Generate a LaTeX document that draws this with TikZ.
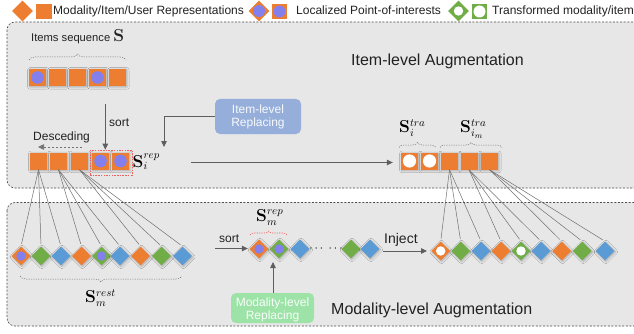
\documentclass[tikz,border=0pt]{standalone}
\usepackage[no-math]{fontspec}
\setmainfont{Liberation Sans}
\usetikzlibrary{shapes.geometric,arrows.meta,decorations.pathreplacing,shadows.blur,calc}
\definecolor{orng}{HTML}{ED7D31}
\definecolor{grn}{HTML}{70AD47}
\definecolor{blu}{HTML}{5B9BD5}
\definecolor{purp}{HTML}{8380EE}
\definecolor{boxgray}{HTML}{E7E7E7}
\definecolor{ilrfill}{HTML}{95AEDA}
\definecolor{mlrfill}{HTML}{9DE3A8}
\definecolor{linegray}{HTML}{707070}
\definecolor{arrgray}{HTML}{5E5E5E}
\definecolor{txt}{HTML}{222222}
\definecolor{redd}{HTML}{F06060}
\begin{document}
\begin{tikzpicture}[x=1pt,y=-1pt,
  shd/.style={blur shadow={shadow xshift=0.9pt,shadow yshift=-0.9pt,shadow blur steps=8,shadow blur radius=2.2pt,shadow opacity=28}},
  sq/.style={rectangle,fill=orng,minimum size=17pt,inner sep=0pt,shd},
  dia/.style={diamond,minimum width=19pt,minimum height=19pt,inner sep=0pt,shd},
  lsq/.style={rectangle,minimum size=15.5pt,inner sep=0pt},
  ldia/.style={diamond,minimum width=21pt,minimum height=21pt,inner sep=0pt},
  poi/.style={path picture={\fill[purp] (path picture bounding box.center) circle (#1);}},
  tfm/.style={path picture={\fill[white] (path picture bounding box.center) circle (#1);}},
  sec/.style={dashed,dash pattern=on 2pt off 1.6pt,draw=black!70,line width=0.6pt,rounded corners=8pt,fill=boxgray},
  lbl/.style={font=\fontsize{12}{13}\selectfont,text=txt,inner sep=0pt},
  big/.style={font=\fontsize{16}{18}\selectfont,text=txt,inner sep=0pt},
  mth/.style={font=\fontsize{16}{18}\selectfont,text=black,inner sep=0pt},
  fan/.style={draw=linegray,line width=0.5pt,shorten >=2.5pt},
  arr/.style={draw=arrgray,line width=0.8pt,-{Triangle[length=6pt,width=5.5pt]}},
  brc/.style={draw=black!55,dashed,dash pattern=on 1.2pt off 1.2pt,line width=0.5pt,decorate,decoration={brace,amplitude=#1}},
  rbrc/.style={draw=redd,dashed,dash pattern=on 1.2pt off 1.2pt,line width=0.6pt,decorate,decoration={brace,amplitude=#1}},
]
\useasboundingbox (0,0) rectangle (634,334);
\clip (0,0) rectangle (634,334);
\fill[white] (0,0) rectangle (634,334);

% section boxes
\draw[sec] (7,22) rectangle (660,188);
\draw[sec] (7,202.5) rectangle (660,326);

% legend
\node[ldia,fill=orng] (lg1) at (22.5,11) {};
\node[lsq,fill=orng] (lg2) at (44,11.5) {};
\node[lbl,anchor=base west] (lgt1) at (53,14.7) {Modality/Item/User Representations};
\node[ldia,fill=orng,poi=6pt] (lg3) at (259,11) {};
\node[lsq,fill=orng,poi=6pt] (lg4) at (279.5,11.5) {};
\node[lbl,anchor=base west] (lgt2) at (296,14.7) {Localized Point-of-interests};
\node[ldia,fill=grn,tfm=4.7pt] (lg5) at (458.5,11) {};
\node[lsq,fill=grn,tfm=6pt] (lg6) at (479.5,11.5) {};
\node[lbl,anchor=base west] (lgt3) at (492,14.7) {Transformed modality/item};

% item-level section
\node[big,anchor=base west] (ila) at (351,66) {Item-level Augmentation};
\node[lbl,anchor=base west,font=\fontsize{11.2}{13}\selectfont] (iseq) at (31,41.5) {Items sequence \fontsize{16}{18}\selectfont$\mathbf{S}$};
\draw[brc=6pt] (29,60) -- (126,60);
\node[sq,poi=6.3pt] (s1) at (37.5,77.5) {};
\node[sq] (s2) at (57.5,77.5) {};
\node[sq] (s3) at (77.5,77.5) {};
\node[sq,poi=6.3pt] (s4) at (97.5,77.5) {};
\node[sq] (s5) at (117.5,77.5) {};

\coordinate (sortstart) at (105.3,104);
\node[lbl,anchor=base west] (sortl) at (109,126.5) {sort};

\node[sq] (ra) at (38.5,161) {};
\node[sq] (rb) at (58.5,161) {};
\node[sq] (rc) at (79.5,161) {};
\node[sq,poi=6.3pt] (rd) at (100.5,161) {};
\node[sq,poi=6.3pt] (re) at (120.5,161) {};
\node[draw=redd,dashed,dash pattern=on 1.5pt off 1.2pt,line width=0.6pt,minimum width=42pt,minimum height=25pt,inner sep=0pt] (redbox) at (111,162.5) {};
\draw[arr] (sortstart) -- (sortstart |- redbox.north);
\node[mth,anchor=base west] (sirep) at (132.5,167) {$\mathbf{S}_i^{rep}$};

\node[lbl,anchor=base west] (desc) at (33,140.3) {Desceding};
\coordinate (dstart) at (82,147);
\coordinate (dend) at (38,147);
\draw[arr,dashed,dash pattern=on 2.5pt off 1.5pt,draw=black!55,line width=0.7pt] (dstart) -- (dend);

\node[rectangle,rounded corners=5pt,fill=ilrfill,minimum width=86pt,minimum height=35pt,inner sep=0pt,align=center,text=white!92!ilrfill,font=\fontsize{12}{13}\selectfont] (ilr) at (258,116.5) {Item-level\\Replacing};
\coordinate (ilrend) at (164,147);
\draw[arr] (ilr.west) -| (ilrend);

\node[sq,tfm=6.6pt] (t1) at (409.5,161) {};
\node[sq,tfm=6.6pt] (t2) at (429.5,161) {};
\node[sq] (t3) at (449.5,161) {};
\node[sq] (t4) at (469,161) {};
\node[sq] (t5) at (489.5,161) {};
\coordinate (lstart) at (191,162.5);
\draw[arr] (lstart) -- (lstart -| t1.west) [shorten >=8pt];
\draw[brc=5pt] (399,147.5) -- (436,147.5);
\draw[brc=5pt] (440,147.5) -- (502,147.5);
\node[mth,anchor=base west] (sitra) at (399,132.3) {$\mathbf{S}_i^{tra}$};
\node[mth,anchor=base west] (simtra) at (460,132.3) {$\mathbf{S}_{i_m}^{tra}$};

% modality-level section
\node[big,anchor=base west] (mla) at (331,314) {Modality-level Augmentation};

\node[dia,fill=orng,poi=4.7pt] (L1) at (21,256) {};
\node[dia,fill=grn] (L2) at (41,256) {};
\node[dia,fill=blu] (L3) at (61,256) {};
\node[dia,fill=orng] (L4) at (81.5,256) {};
\node[dia,fill=grn,poi=4.7pt] (L5) at (101.5,256) {};
\node[dia,fill=blu] (L6) at (120,256) {};
\node[dia,fill=orng] (L7) at (140.5,256) {};
\node[dia,fill=grn] (L8) at (161.5,256) {};
\node[dia,fill=blu] (L9) at (182.5,256) {};
\draw[brc=6pt] (20,276) -- (182,276) [decoration={mirror}];
\node[mth,anchor=base west] (smrest) at (85,302.3) {$\mathbf{S}_m^{rest}$};

\foreach \s/\d in {ra/L1,ra/L2,ra/L3,rb/L4,rb/L5,rb/L6,rc/L7,rc/L8,rc/L9}
  \draw[fan] (\s.south) -- (\d.north);

\node[lbl,anchor=base west] (sort2) at (219,242.5) {sort};
\node[dia,fill=orng,poi=4.7pt] (M1) at (259,249) {};
\node[dia,fill=grn,poi=4.7pt] (M2) at (279,249) {};
\node[dia,fill=blu] (M3) at (300,249) {};
\node[lbl,text=black] (dots) at (326,249) {$\cdots\;\cdots$};
\node[dia,fill=grn] (M4) at (351,249) {};
\node[dia,fill=blu] (M5) at (370,249) {};
\coordinate (s2start) at (215,248.5);
\draw[arr] (s2start) -- (s2start -| M1.west) [shorten >=1.5pt];
\draw[rbrc=4pt] (250,235) -- (287,235);
\node[mth,anchor=base west] (smrep) at (256,221) {$\mathbf{S}_m^{rep}$};

\node[rectangle,rounded corners=5pt,fill=mlrfill,minimum width=83pt,minimum height=30pt,inner sep=0pt] (mlr) at (272.5,308) {};
\begin{scope}
\clip[rounded corners=5pt] (mlr.south west) rectangle (mlr.north east);
\node[align=center,text=white!94!mlrfill,font=\fontsize{12}{13}\selectfont,inner sep=0pt] (mlrt) at (272.5,309.5) {Modality-level\\Replacing};
\end{scope}
\coordinate (mlrend) at (273,262);
\draw[arr] (mlr.north -| mlrend) -- (mlrend);

\node[lbl,anchor=base west,font=\fontsize{14}{16}\selectfont] (inj) at (384,243.3) {Inject};
\coordinate (injstart) at (383,251);

\node[dia,fill=orng,tfm=4.7pt] (R1) at (440.7,251) {};
\node[dia,fill=grn] (R2) at (460.7,251) {};
\node[dia,fill=blu] (R3) at (481,251) {};
\node[dia,fill=orng] (R4) at (501,251) {};
\node[dia,fill=grn,tfm=4.7pt] (R5) at (521,251) {};
\node[dia,fill=blu] (R6) at (541,251) {};
\node[dia,fill=orng] (R7) at (561.7,251) {};
\node[dia,fill=grn] (R8) at (582.3,251) {};
\node[dia,fill=blu] (R9) at (605,251) {};
\draw[arr] (injstart) -- (injstart -| R1.west) [shorten >=4pt];

\foreach \s/\d in {t3/R1,t3/R2,t3/R3,t4/R4,t4/R5,t4/R6,t5/R7,t5/R8,t5/R9}
  \draw[fan] (\s.south) -- (\d.north);
\end{tikzpicture}
\end{document}
